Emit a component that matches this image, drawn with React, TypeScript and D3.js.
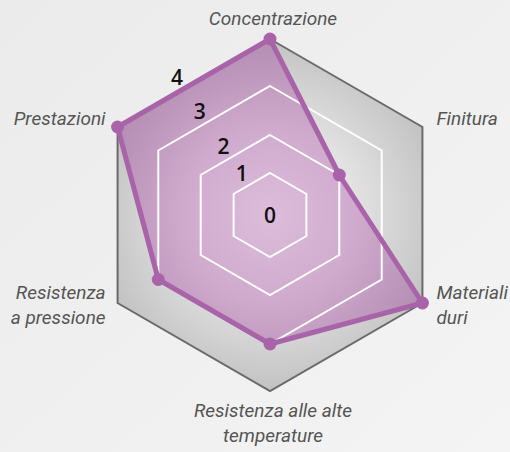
import * as d3 from 'd3';

// axes, clockwise from the top
const AXIS_LABELS: string[][] = [
  ['Concentrazione'],
  ['Finitura'],
  ['Materiali', 'duri'],
  ['Resistenza alle alte', 'temperature'],
  ['Resistenza', 'a pressione'],
  ['Prestazioni'],
];
const VALUES = [4, 2, 4, 3, 3, 4];
const LEVELS = [0, 1, 2, 3, 4];
const RINGS = [1, 2, 3];

const W = 510;
const H = 452;

export default function App() {
  const cx = 270;
  const cy = 215;
  const n = AXIS_LABELS.length;

  // rings in the picture are not evenly spaced
  const r = d3.scaleLinear().domain(LEVELS).range([0, 42, 80, 129, 176]);
  const angle = (i: number) => -Math.PI / 2 + (i * 2 * Math.PI) / n;

  const hexPath = (level: number) =>
    d3.line<number>()
      .x((_, i) => cx + r(level) * Math.cos(angle(i)))
      .y((_, i) => cy + r(level) * Math.sin(angle(i)))
      .curve(d3.curveLinearClosed)(d3.range(n).map(() => level)) as string;

  const pts = VALUES.map((v, i) => [cx + r(v) * Math.cos(angle(i)), cy + r(v) * Math.sin(angle(i))]);
  const dataPath = d3.line().curve(d3.curveLinearClosed)(pts as [number, number][]) as string;

  const R = r(4);
  const labelFont = 'Roboto, sans-serif';

  const axisLabel = (lines: string[], i: number) => {
    const a = angle(i);
    const vx = cx + R * Math.cos(a);
    const vy = cy + R * Math.sin(a);
    const c = Math.cos(a);
    const s = Math.sin(a);
    let anchor = 'middle';
    let x = vx + 3;
    let y = vy;
    if (Math.abs(c) < 0.01) {
      y = s < 0 ? vy - 14 : vy + 26;
    } else {
      anchor = c > 0 ? 'start' : 'end';
      x = vx + (c > 0 ? 14 : -12);
      y = s < 0 ? vy - 2 : vy - 4;
    }
    return (
      <text key={i} x={x} y={y} textAnchor={anchor} fontFamily={labelFont} fontStyle="italic"
        fontSize={19} fill="#555">
        {lines.map((l, k) => (
          <tspan key={k} x={x} dy={k === 0 ? 0 : 25}>{l}</tspan>
        ))}
      </text>
    );
  };

  // level numbers sit just outside each ring, toward the upper-left edge
  const numAngle = (-124 * Math.PI) / 180;
  const numPos = (lv: number) => {
    const d = lv === 0 ? 0 : r(lv) * Math.cos(Math.PI / 6) + 14;
    return [cx + d * Math.cos(numAngle), cy + d * Math.sin(numAngle)];
  };

  return (
    <>
      <style>{'body{margin:0}'}</style>
      <svg width={W} height={H} style={{ display: 'block' }}>
        <defs>
          <linearGradient id="bg" x1="0" y1="0" x2="1" y2="1">
            <stop offset="0" stopColor="#ebebeb" />
            <stop offset="1" stopColor="#f4f4f4" />
          </linearGradient>
          <radialGradient id="hexFill" cx={cx} cy={cy} r={R} gradientUnits="userSpaceOnUse">
            <stop offset="0" stopColor="#ededed" />
            <stop offset="0.5" stopColor="#e2e2e2" />
            <stop offset="1" stopColor="#c2c2c2" />
          </radialGradient>
          <radialGradient id="dataFill" cx={cx} cy={cy} r={R} gradientUnits="userSpaceOnUse">
            <stop offset="0" stopColor="#ddbddb" />
            <stop offset="0.5" stopColor="#cfaacd" />
            <stop offset="1" stopColor="#b48db2" />
          </radialGradient>
        </defs>
        <rect width={W} height={H} fill="url(#bg)" />

        <path d={hexPath(4)} fill="url(#hexFill)" stroke="#6a6a6a" strokeWidth={2} />
        <path d={dataPath} fill="url(#dataFill)" />

        {RINGS.map((lv) => (
          <path key={lv} d={hexPath(lv)} fill="none" stroke="#fff" strokeWidth={2} />
        ))}

        <path d={dataPath} fill="none" stroke="#a964a9" strokeWidth={5} strokeLinejoin="round" />
        {pts.map((p, i) => (
          <circle key={i} cx={p[0]} cy={p[1]} r={6.5} fill="#a964a9" />
        ))}

        {LEVELS.map((lv) => {
          const [x, y] = numPos(lv);
          return (
            <text key={lv} x={x} y={y} textAnchor="middle" dominantBaseline="central"
              fontFamily="'Open Sans', sans-serif" fontWeight={600} fontSize={21} fill="#111">
              {lv}
            </text>
          );
        })}

        {AXIS_LABELS.map((lines, i) => axisLabel(lines, i))}
      </svg>
    </>
  );
}
